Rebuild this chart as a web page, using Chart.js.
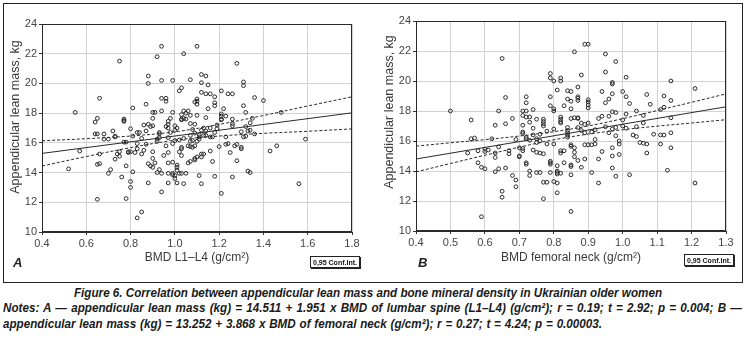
<!DOCTYPE html>
<html>
<head>
<meta charset="utf-8">
<script src="https://cdn.jsdelivr.net/npm/chart.js@4.4.0/dist/chart.umd.min.js"></script>
<style>
  body { margin: 0; width: 747px; height: 340px; background: #fff; position: relative; overflow: hidden; font-family: "Liberation Sans", Arial, sans-serif; }
  #frame { position: absolute; left: 3px; top: 3px; width: 738px; height: 278px; border: 1.5px solid #222; }
  canvas { position: absolute; top: 0; }
  #chartA { left: 0; }
  #chartB { left: 374px; }
  .tag { position: absolute; top: 255px; font: italic bold 13px "Liberation Sans", Arial, sans-serif; color: #222; }
  .ci { position: absolute; font: bold 7px "Liberation Sans", Arial, sans-serif; color: #111; border: 1px solid #222; box-shadow: 1px 1px 0 #222; padding: 1px 2px 0 2px; height: 9px; line-height: 9px; white-space: nowrap; }
  .cap { position: absolute; display: inline-block; white-space: nowrap; transform-origin: 0 0; font: italic bold 13px "Liberation Sans Narrow", "Arial Narrow", "Liberation Sans", sans-serif; color: #1a1a1a; line-height: 14px; }
</style>
</head>
<body>
<div id="frame"></div>
<canvas id="chartA" width="372" height="280"></canvas>
<canvas id="chartB" width="372" height="280"></canvas>
<div class="tag" style="left:13px">A</div>
<div class="tag" style="left:418px">B</div>
<div class="ci" style="left:310px; top:256px">0,95 Conf.Int.</div>
<div class="ci" style="left:684px; top:254px">0,95 Conf.Int.</div>
<span class="cap" id="cap1" style="top:286px">Figure 6. Correlation between appendicular lean mass and bone mineral density in Ukrainian older women</span>
<span class="cap" id="cap2" style="top:301px">Notes: A — appendicular lean mass (kg) = 14.511 + 1.951 x BMD of lumbar spine (L1–L4) (g/cm²); r = 0.19; t = 2.92; p = 0.004; B —</span>
<span class="cap" id="cap3" style="top:317px">appendicular lean mass (kg) = 13.252 + 3.868 x BMD of femoral neck (g/cm²); r = 0.27; t = 4.24; p = 0.00003.</span>
<script>
// tick labels
const yTicks = [10, 12, 14, 16, 18, 20, 22, 24];
const xTicksA = [0.4, 0.6, 0.8, 1.0, 1.2, 1.4, 1.6, 1.8];
const xTicksB = [0.4, 0.5, 0.6, 0.7, 0.8, 0.9, 1.0, 1.1, 1.2, 1.3];

// A: BMD L1-L4 vs appendicular lean mass
const lumbarPoints = [
  [0.94,22.5],[1.10,22.5],[1.04,22.0],[0.92,21.8],[0.75,21.5],[1.28,21.35],[1.12,20.6],[1.14,20.5],
  [0.88,20.5],[0.94,20.2],[0.99,20.2],[1.07,20.25],[0.88,20.0],[1.12,20.05],[1.15,19.9],[1.31,20.1],
  [1.31,19.85],[1.03,19.7],[1.02,19.5],[1.12,19.4],[1.14,19.3],[1.21,19.5],[1.16,19.3],[1.24,19.3],
  [1.26,19.3],[1.36,19.05],[1.40,18.85],[0.94,19.0],[0.96,19.0],[0.96,18.8],[1.10,18.95],[1.10,18.8],
  [1.09,18.75],[1.10,18.6],[1.18,19.1],[1.18,18.7],[1.18,18.5],[0.66,19.0],[0.87,18.6],[0.81,18.35],
  [1.15,18.3],[1.22,18.3],[1.31,18.5],[1.32,18.05],[1.48,18.05],[0.55,18.05],[0.90,18.05],[0.91,18.05],
  [0.94,18.15],[0.99,18.05],[1.04,18.15],[1.05,18.0],[1.06,18.15],[1.03,17.9],[1.07,17.85],[1.21,17.95],
  [1.23,17.8],[1.10,17.85],[0.65,17.65],[0.64,17.4],[0.52,14.25],[0.57,15.45],[0.65,16.6],[0.64,16.6],
  [0.68,16.6],[0.68,16.25],[0.70,16.25],[0.72,16.8],[0.73,16.45],[0.77,17.6],[0.77,17.5],[0.77,17.45],
  [0.66,15.25],[0.65,14.55],[0.66,14.6],[0.65,12.2],[0.70,13.95],[0.71,14.2],[0.73,14.9],[0.74,15.25],
  [0.75,15.1],[0.75,15.4],[0.77,16.05],[0.78,16.05],[0.76,13.7],[0.78,14.45],[0.78,12.25],[0.80,13.4],
  [0.80,13.0],[0.80,16.95],[0.81,14.05],[0.80,15.4],[0.79,15.4],[0.81,16.45],[0.82,15.35],[0.83,16.7],
  [0.83,15.95],[0.83,15.6],[0.83,10.95],[0.85,11.35],[0.84,16.7],[0.85,15.25],[0.86,17.2],[0.87,16.8],
  [0.87,15.9],[0.88,14.6],[0.89,14.45],[0.88,13.3],[0.88,17.25],[0.89,17.1],[0.90,17.65],[0.90,17.15],
  [0.90,15.4],[0.90,14.95],[0.90,14.35],[0.91,14.65],[0.92,16.25],[0.92,16.1],[0.93,16.35],[0.93,16.7],
  [0.93,16.6],[0.93,14.2],[0.92,14.0],[0.94,13.95],[0.94,12.7],[0.95,15.15],[0.96,15.8],[0.96,17.1],
  [0.97,17.0],[0.97,17.45],[0.97,17.25],[0.98,17.65],[0.97,16.35],[0.98,16.7],[0.97,13.3],[0.97,15.35],
  [0.97,14.65],[0.99,14.7],[0.97,13.95],[0.99,13.85],[0.99,13.95],[1.00,13.6],[1.01,13.3],[1.00,13.8],
  [1.01,14.5],[1.01,14.35],[1.01,14.15],[1.02,13.95],[1.03,13.95],[1.05,13.95],[1.04,13.25],[1.00,17.15],
  [1.00,16.85],[1.01,17.0],[1.00,16.15],[0.99,15.95],[1.03,17.6],[1.03,17.55],[1.04,17.65],[1.05,17.6],
  [1.02,16.2],[1.04,16.3],[1.03,15.7],[1.03,15.6],[1.03,15.15],[1.02,15.4],[1.06,14.65],[1.07,14.75],
  [1.06,15.8],[1.07,15.75],[1.07,16.1],[1.08,16.15],[1.07,16.5],[1.07,17.3],[1.09,17.25],[1.08,16.9],
  [1.09,16.65],[1.09,15.8],[1.08,15.7],[1.09,14.95],[1.09,14.85],[1.10,15.05],[1.10,16.1],[1.11,16.4],
  [1.11,16.55],[1.11,16.25],[1.11,13.8],[1.12,13.25],[1.12,15.25],[1.12,15.05],[1.13,15.25],[1.12,16.85],
  [1.13,17.0],[1.14,16.8],[1.13,16.5],[1.14,17.7],[1.14,16.5],[1.16,17.0],[1.16,15.45],[1.16,16.4],
  [1.17,16.4],[1.17,14.75],[1.18,13.75],[1.18,16.7],[1.19,16.95],[1.19,17.2],[1.20,15.75],[1.21,17.55],
  [1.21,17.6],[1.21,17.8],[1.21,12.6],[1.23,16.4],[1.23,15.9],[1.24,15.95],[1.25,15.35],[1.26,17.6],
  [1.26,17.3],[1.26,17.15],[1.26,13.7],[1.27,15.8],[1.28,15.9],[1.28,14.8],[1.30,16.75],[1.30,15.6],
  [1.30,15.7],[1.31,16.4],[1.32,17.1],[1.32,16.45],[1.33,16.8],[1.33,14.1],[1.34,14.0],[1.34,17.35],
  [1.34,16.85],[1.35,17.65],[1.36,16.6],[1.43,15.45],[1.46,15.8],[1.56,13.25],[1.59,16.25],[0.85,16.3],
  [0.86,15.5],[0.79,15.35],[0.73,16.4]
];
const lumbarFitX = [0.4, 1.8];
const lumbarFitY = [15.29, 18.02];
const lumbarBandX = [0.4, 0.6, 0.8, 1.0, 1.2, 1.4, 1.6, 1.8];
const lumbarUpper = [16.14, 16.28, 16.46, 16.74, 17.24, 17.84, 18.48, 19.1];
const lumbarLower = [14.44, 15.08, 15.68, 16.18, 16.46, 16.64, 16.78, 16.94];

// B: BMD femoral neck vs appendicular lean mass
const neckPoints = [
  [0.89,22.45],[0.90,22.45],[0.86,21.95],[0.95,21.8],[0.98,21.3],[0.65,21.5],[0.79,20.5],[0.88,20.4],
  [0.95,20.6],[0.79,20.2],[0.82,20.2],[0.82,20.0],[0.80,20.0],[1.01,20.25],[0.97,19.9],[0.97,19.8],
  [1.14,20.0],[1.21,19.5],[0.81,19.4],[0.84,19.35],[0.85,19.3],[0.94,19.3],[1.00,19.3],[0.97,19.15],
  [0.87,19.6],[0.66,18.9],[0.72,18.95],[0.79,18.95],[0.87,18.95],[0.87,18.85],[0.84,18.8],[0.90,18.75],
  [0.90,18.6],[0.90,18.4],[0.96,18.8],[1.01,18.95],[1.07,19.1],[1.12,19.0],[1.14,18.7],[0.72,18.55],
  [0.85,18.65],[0.87,18.7],[0.95,18.55],[1.02,18.5],[1.08,18.45],[0.79,18.35],[0.83,18.35],[0.80,18.15],
  [0.85,18.15],[0.50,18.0],[0.64,18.0],[0.71,18.0],[0.72,18.0],[0.74,18.1],[0.80,18.0],[0.90,18.2],
  [0.97,17.95],[0.98,17.9],[1.04,18.0],[1.11,18.1],[1.12,18.25],[0.56,17.4],[0.68,17.5],[0.66,17.15],
  [0.63,17.05],[0.71,17.7],[0.72,17.6],[0.73,17.6],[0.73,17.25],[0.75,17.45],[0.71,17.05],[0.77,17.45],
  [0.77,17.3],[0.77,17.15],[0.77,17.0],[0.82,17.6],[0.82,17.45],[0.82,17.3],[0.82,17.2],[0.85,17.5],
  [0.86,17.55],[0.87,17.55],[0.87,17.5],[0.88,17.2],[0.89,17.1],[0.90,17.2],[0.93,17.5],[0.94,17.65],
  [0.96,17.65],[1.00,17.4],[1.01,17.8],[1.06,17.7],[1.06,17.2],[1.14,17.55],[0.84,16.9],[0.84,16.55],
  [0.84,16.4],[0.84,16.25],[0.84,16.7],[0.87,16.9],[0.88,16.7],[0.89,16.55],[0.91,16.6],[0.92,16.75],
  [0.95,16.95],[0.96,16.55],[0.97,16.8],[0.98,16.9],[0.98,16.35],[1.00,17.0],[1.01,16.85],[1.03,16.4],
  [1.04,16.3],[1.04,16.95],[1.09,16.45],[1.11,15.8],[1.11,16.4],[1.12,16.4],[1.14,16.55],[1.07,15.8],
  [1.05,15.9],[1.14,15.55],[0.56,16.15],[0.57,16.2],[0.62,16.15],[0.55,15.2],[0.58,15.35],[0.60,15.45],
  [0.60,15.3],[0.61,15.4],[0.63,15.2],[0.63,14.9],[0.64,15.6],[0.67,15.35],[0.67,15.15],[0.58,14.55],
  [0.59,14.25],[0.60,14.15],[0.63,13.95],[0.64,14.15],[0.66,14.2],[0.65,12.65],[0.65,12.25],[0.68,13.7],
  [0.69,13.4],[0.69,12.95],[0.59,10.95],[0.69,16.1],[0.70,15.55],[0.70,15.0],[0.70,14.95],[0.71,15.5],
  [0.71,15.35],[0.71,16.6],[0.71,16.5],[0.72,16.25],[0.72,16.15],[0.73,16.05],[0.72,14.55],[0.72,14.45],
  [0.73,14.0],[0.73,13.7],[0.74,16.85],[0.74,16.4],[0.75,16.15],[0.75,15.9],[0.74,15.4],[0.75,15.25],
  [0.75,13.9],[0.76,13.9],[0.76,16.45],[0.76,16.0],[0.76,15.2],[0.77,15.15],[0.77,13.25],[0.78,13.25],
  [0.77,12.15],[0.78,16.65],[0.78,15.8],[0.80,15.8],[0.79,14.65],[0.79,14.55],[0.79,14.45],[0.79,13.9],
  [0.80,13.3],[0.80,16.8],[0.81,14.35],[0.81,14.0],[0.81,13.9],[0.81,13.8],[0.81,13.2],[0.81,12.55],
  [0.82,15.35],[0.82,15.2],[0.82,13.85],[0.83,15.35],[0.83,14.55],[0.85,15.75],[0.85,15.65],[0.85,14.4],
  [0.85,14.3],[0.85,13.75],[0.85,11.3],[0.86,14.95],[0.86,15.25],[0.86,15.55],[0.87,14.7],[0.88,14.25],
  [0.89,14.8],[0.89,15.75],[0.90,15.75],[0.91,15.75],[0.92,15.8],[0.91,13.9],[0.93,13.2],[0.93,14.8],
  [0.92,16.1],[0.94,15.3],[0.97,14.2],[0.97,15.0],[0.97,15.55],[0.98,13.65],[0.99,15.1],[0.99,15.8],
  [0.99,16.0],[1.02,13.75],[1.06,15.85],[1.07,15.2],[1.13,14.05],[1.21,13.2]
];
const neckFitX = [0.4, 1.3];
const neckFitY = [14.80, 18.28];
const neckBandX = [0.4, 0.5, 0.6, 0.7, 0.8, 0.9, 1.0, 1.1, 1.2, 1.3];
const neckUpper = [15.66, 15.88, 16.09, 16.33, 16.62, 17.0, 17.49, 18.03, 18.58, 19.14];
const neckLower = [13.94, 14.5, 15.05, 15.59, 16.08, 16.46, 16.75, 16.99, 17.2, 17.42];

const Y_TITLE = 'Appendicular lean mass, kg';

// plot box on all four sides + the y title, placed a bit above centre like the print
const plotFrame = {
    id: 'plotFrame',
    afterDraw(chart, args, opts) {
        const a = chart.chartArea;
        const ctx = chart.ctx;
        ctx.save();
        ctx.strokeStyle = '#2a2a2a';
        ctx.lineWidth = 1;
        ctx.strokeRect(a.left + 0.5, a.top + 0.5, a.right - a.left - 1, a.bottom - a.top - 1);
        ctx.translate(opts.titleX, opts.titleY);
        ctx.rotate(-Math.PI / 2);
        ctx.font = '12.5px "Liberation Sans"';
        ctx.fillStyle = '#3a3a3a';
        ctx.textAlign = 'center';
        ctx.textBaseline = 'middle';
        ctx.fillText(Y_TITLE, 0, 0);
        ctx.restore();
    }
};

function pairs(xs, ys) {
    return xs.map((x, i) => ({x: x, y: ys[i]}));
}

function makeChart(id, points, fitX, fitY, bandX, upper, lower, xTicks, xTitle, plotTop, plotBottom, titleY) {
    const ctx = document.getElementById(id).getContext('2d');
    const lineStyle = {showLine: true, pointRadius: 0, borderColor: '#2a2a2a', borderWidth: 1, fill: false};
    return new Chart(ctx, {
        type: 'scatter',
        data: {
            datasets: [
                Object.assign({data: pairs(fitX, fitY)}, lineStyle),
                Object.assign({data: pairs(bandX, upper), borderDash: [3, 2], tension: 0.35}, lineStyle),
                Object.assign({data: pairs(bandX, lower), borderDash: [3, 2], tension: 0.35}, lineStyle),
                {
                    data: points.map(p => ({x: p[0], y: p[1]})),
                    pointRadius: 1.9,
                    pointBorderWidth: 1,
                    pointBorderColor: '#2a2a2a',
                    pointBackgroundColor: 'rgba(0,0,0,0)'
                }
            ]
        },
        options: {
            responsive: false,
            animation: false,
            events: [],
            layout: {padding: {top: plotTop, right: 20, left: 0, bottom: 0}},
            plugins: {
                legend: {display: false},
                tooltip: {enabled: false},
                plotFrame: {titleX: 16, titleY: titleY}
            },
            scales: {
                x: {
                    type: 'linear',
                    min: xTicks[0],
                    max: xTicks[xTicks.length - 1],
                    afterBuildTicks: s => { s.ticks = xTicks.map(v => ({value: v})); },
                    afterFit: s => { s.height = 280 - plotBottom; },
                    ticks: {
                        callback: v => v.toFixed(1),
                        color: '#444',
                        font: {family: 'Liberation Sans', size: 11},
                        padding: 2,
                        maxRotation: 0,
                        autoSkip: false
                    },
                    grid: {color: '#d2d2d2', tickLength: 3, tickColor: '#333'},
                    border: {color: '#2a2a2a'},
                    title: {
                        display: true,
                        text: xTitle,
                        color: '#3a3a3a',
                        font: {family: 'Liberation Sans', size: 12},
                        padding: {top: 0, bottom: 15}
                    }
                },
                y: {
                    min: yTicks[0],
                    max: yTicks[yTicks.length - 1],
                    afterBuildTicks: s => { s.ticks = yTicks.map(v => ({value: v})); },
                    afterFit: s => { s.width = 42; },
                    ticks: {
                        color: '#444',
                        font: {family: 'Liberation Sans', size: 11},
                        padding: 2
                    },
                    grid: {color: '#d2d2d2', tickLength: 3, tickColor: '#333'},
                    border: {color: '#2a2a2a'}
                }
            }
        },
        plugins: [plotFrame]
    });
}

makeChart('chartA', lumbarPoints, lumbarFitX, lumbarFitY, lumbarBandX, lumbarUpper, lumbarLower,
    xTicksA, 'BMD L1–L4 (g/cm²)', 24, 232, 117);
makeChart('chartB', neckPoints, neckFitX, neckFitY, neckBandX, neckUpper, neckLower,
    xTicksB, 'BMD femoral neck (g/cm²)', 21, 231, 112);

// one horizontal squeeze taken from the title line, then word spacing so each
// notes line ends where it ends in the print
const cap1 = document.getElementById('cap1');
const cap2 = document.getElementById('cap2');
const cap3 = document.getElementById('cap3');
const squeeze = 588 / cap1.getBoundingClientRect().width;
[cap1, cap2, cap3].forEach(el => { el.style.transform = 'scaleX(' + squeeze + ')'; });
cap1.style.left = '74px';
function spreadTo(el, width) {
    el.style.left = '3px';
    const spaces = el.textContent.split(' ').length - 1;
    const extra = (width - el.getBoundingClientRect().width) / squeeze;
    el.style.wordSpacing = (extra / spaces) + 'px';
}
spreadTo(cap2, 739);
spreadTo(cap3, 599);
</script>
</body>
</html>
